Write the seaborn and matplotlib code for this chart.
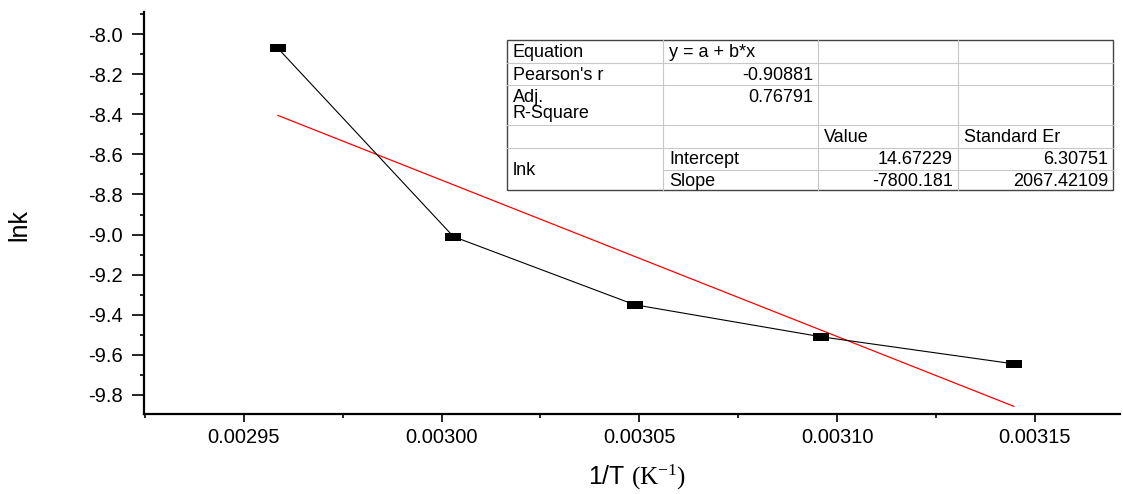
import numpy as np
import pandas as pd
import matplotlib
matplotlib.use("Agg")
import matplotlib.pyplot as plt
from matplotlib.path import Path
from matplotlib.ticker import MultipleLocator, FormatStrFormatter
import seaborn as sns

# ---- data ----
inv_T = [0.0029586, 0.0030030, 0.0030488, 0.0030960, 0.0031447]
lnk = [-8.07, -9.01, -9.35, -9.51, -9.645]
fit_intercept = 14.67229
fit_slope = -7800.181

table_rows = [
    ["Equation", "y = a + b*x", "", ""],
    ["Pearson's r", "-0.90881", "", ""],
    ["Adj.\nR-Square", "0.76791", "", ""],
    ["", "", "Value", "Standard Er"],
    ["lnk", "Intercept", "14.67229", "6.30751"],
    ["", "Slope", "-7800.181", "2067.42109"],
]

sns.set_theme(style="ticks")
plt.rcParams['font.family'] = ['Liberation Sans', 'DejaVu Sans']
plt.rcParams['axes.unicode_minus'] = False
plt.rcParams['mathtext.fontset'] = 'custom'
plt.rcParams['mathtext.rm'] = 'Liberation Serif'
plt.rcParams['mathtext.it'] = 'Liberation Serif:italic'

W, H = 1123, 494
fig = plt.figure(figsize=(W / 100, H / 100), dpi=100)
ax = fig.add_axes([144 / W, (H - 414) / H, (1120 - 144) / W, (414 - 12) / H])

df = pd.DataFrame({"x": inv_T, "y": lnk})
fit_x = [inv_T[0], inv_T[-1]]
fit_df = pd.DataFrame({"x": fit_x, "y": [fit_intercept + fit_slope * v for v in fit_x]})

rect = Path([(-1, -0.5), (1, -0.5), (1, 0.5), (-1, 0.5), (-1, -0.5)],
            [Path.MOVETO, Path.LINETO, Path.LINETO, Path.LINETO, Path.CLOSEPOLY])

sns.lineplot(data=fit_df, x="x", y="y", ax=ax, color="red", linewidth=0.9, zorder=2)
sns.lineplot(data=df, x="x", y="y", ax=ax, color="black", linewidth=0.8,
             marker=rect, markersize=11.5, markeredgewidth=0,
             markerfacecolor="black", zorder=3)

ax.set_xlim(0.0029248, 0.0031715)
ax.set_ylim(-9.895, -7.89)
ax.xaxis.set_major_locator(MultipleLocator(0.00005))
ax.xaxis.set_minor_locator(MultipleLocator(0.000025))
ax.xaxis.set_major_formatter(FormatStrFormatter('%.5f'))
ax.yaxis.set_major_locator(MultipleLocator(0.2))
ax.yaxis.set_minor_locator(MultipleLocator(0.1))
ax.yaxis.set_major_formatter(FormatStrFormatter('%.1f'))

for s in ["top", "right"]:
    ax.spines[s].set_visible(False)
for s in ["left", "bottom"]:
    ax.spines[s].set_linewidth(1.6)
    ax.spines[s].set_color("black")

ax.tick_params(axis="x", which="major", length=6, width=1.2, color="black",
               labelsize=14.5, labelcolor="black", direction="out", pad=4)
ax.tick_params(axis="x", which="minor", length=3, width=1.2, color="black",
               direction="out")
ax.tick_params(axis="y", which="major", length=8.5, width=1.2, color="black",
               labelsize=14.5, labelcolor="black", direction="out", pad=7)
ax.tick_params(axis="y", which="minor", length=3, width=1.2, color="black",
               direction="out")

ax.set_xlabel(r"1/T $\mathrm{(K^{-1})}$", fontsize=18, color="black")
ax.xaxis.set_label_coords(0.505, -0.122)
ax.set_ylabel("lnk", fontsize=18, color="black")
ax.yaxis.set_label_coords(-0.115, 0.47)

# ---- statistics table (drawn in figure pixel layout) ----
def fx(x):
    return x / W

def fy(y):
    return 1 - y / H

cols = [507, 663, 818, 958, 1113]
rows = [40, 63, 85, 125, 148, 170, 190]
light = "#c8c8c8"
dark = "#444444"

for i, yy in enumerate(rows[1:-1], start=1):
    x0 = cols[1] if i == 5 else cols[0]
    fig.add_artist(plt.Line2D([fx(x0), fx(cols[-1])], [fy(yy), fy(yy)],
                              color=light, linewidth=0.8))
for xx in cols[1:-1]:
    fig.add_artist(plt.Line2D([fx(xx), fx(xx)], [fy(rows[0]), fy(rows[-1])],
                              color=light, linewidth=0.8))
fig.add_artist(plt.Rectangle((fx(cols[0]), fy(rows[-1])),
                             fx(cols[-1]) - fx(cols[0]), fy(rows[0]) - fy(rows[-1]),
                             fill=False, edgecolor=dark, linewidth=1.0))

fs = 13
right_aligned = {(1, 1), (2, 1), (4, 2), (4, 3), (5, 2), (5, 3)}
for r, row in enumerate(table_rows):
    for c, txt in enumerate(row):
        if not txt:
            continue
        y_top = rows[r]
        y_bot = rows[r + 1]
        if r == 4 and c == 0:
            y_bot = rows[6]
        if (r, c) in right_aligned:
            x = cols[c + 1] - 5
            ha = "right"
        else:
            x = cols[c] + 6
            ha = "left"
        if r == 2:
            y = y_top + 4
            va = "top"
        else:
            y = (y_top + y_bot) / 2 + 1
            va = "center"
        fig.text(fx(x), fy(y), txt, ha=ha, va=va, fontsize=fs, color="black",
                 linespacing=0.95)

fig.savefig("out.png", dpi=100)
